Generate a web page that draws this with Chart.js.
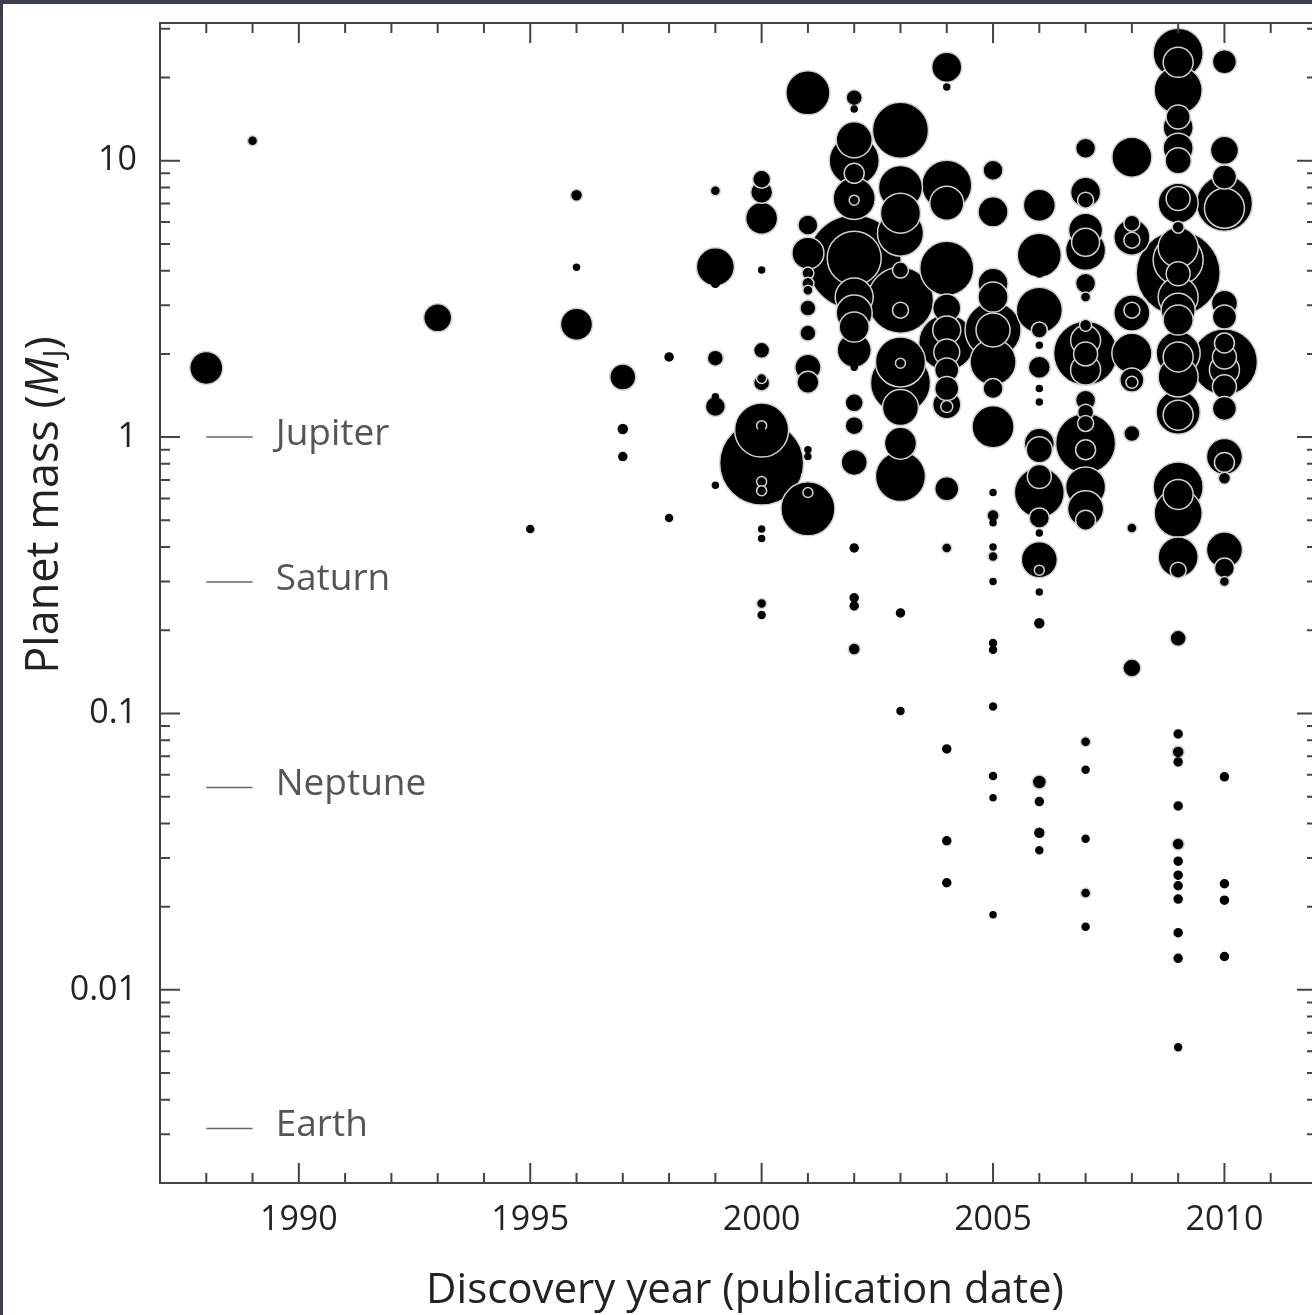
<!DOCTYPE html>
<html>
<head>
<meta charset="utf-8">
<script src="https://cdn.jsdelivr.net/npm/chart.js@4/dist/chart.umd.min.js"></script>
<style>
  html, body { margin: 0; padding: 0; background: #3b3e4b; overflow: hidden; }
  #wrap { position: absolute; left: 3px; top: 4px; width: 1330px; height: 1311px; background: #fff; }
</style>
</head>
<body>
<div id="wrap"><canvas id="massChart" width="1330" height="1311"></canvas></div>
<script>
// discovery years (publication date)
const years = [1988, 1989, 1993, 1995, 1996, 1997, 1998, 1999, 2000, 2001, 2002, 2003, 2004, 2005, 2006, 2007, 2008, 2009, 2010];

// planet masses (M_J), one list per year
const masses = [
  [1.78],
  [11.8],
  [2.7],
  [0.465],
  [7.5, 4.12, 2.56],
  [1.65, 1.07, 0.85],
  [1.95, 0.51],
  [7.78, 4.13, 3.6, 1.93, 1.4, 1.29, 0.67],
  [8.57, 7.69, 6.19, 4.02, 2.06, 1.63, 1.57, 1.10, 1.06, 1.04, 0.805, 0.69, 0.64, 0.465, 0.43, 0.25, 0.227],
  [17.6, 5.85, 4.63, 3.92, 3.6, 3.4, 2.93, 2.38, 1.79, 1.58, 0.90, 0.85, 0.63, 0.55],
  [16.9, 15.4, 11.9, 10, 9.0, 7.3, 7.2, 4.44, 4.3, 3.21, 2.81, 2.5, 2.06, 1.79, 1.33, 1.10, 0.81, 0.397, 0.262, 0.245, 0.171],
  [12.9, 8.0, 6.46, 5.47, 4.02, 3.13, 2.88, 1.87, 1.85, 1.57, 1.28, 0.95, 0.72, 0.231, 0.102],
  [21.8, 18.5, 8.15, 7.02, 4.08, 2.93, 2.44, 2.2, 2.03, 1.75, 1.5, 1.31, 1.29, 0.65, 0.64, 0.397, 0.0744, 0.0346, 0.0244],
  [9.24, 6.53, 3.6, 3.21, 2.44, 2.44, 1.87, 1.5, 1.15, 1.09, 0.63, 0.52, 0.49, 0.40, 0.37, 0.30, 0.18, 0.17, 0.106, 0.0594, 0.0495, 0.0187],
  [6.9, 4.55, 3.92, 2.88, 2.44, 2.15, 1.79, 1.5, 1.34, 0.95, 0.9, 0.72, 0.63, 0.51, 0.45, 0.36, 0.33, 0.275, 0.212, 0.0565, 0.048, 0.037, 0.032],
  [11.1, 7.69, 7.2, 5.6, 5.07, 4.74, 3.6, 3.21, 2.54, 2.24, 2.01, 2.0, 1.75, 1.36, 1.23, 1.12, 0.95, 0.90, 0.66, 0.55, 0.50, 0.079, 0.0625, 0.0352, 0.0224, 0.0169],
  [10.3, 5.94, 5.29, 5.16, 2.88, 2.81, 2.01, 1.61, 1.58, 1.03, 0.469, 0.146],
  [24.5, 22.7, 18.0, 14.4, 13.2, 11.1, 10, 7.3, 7.02, 5.75, 4.86, 4.37, 3.92, 3.9, 3.21, 2.88, 2.65, 2.01, 1.95, 1.65, 1.23, 1.2, 0.66, 0.62, 0.53, 0.368, 0.33, 0.187, 0.0843, 0.0726, 0.0668, 0.0463, 0.0337, 0.0292, 0.026, 0.0238, 0.0213, 0.0161, 0.013, 0.0062],
  [22.8, 10.9, 8.73, 7.02, 6.73, 3.05, 2.72, 2.19, 1.95, 1.87, 1.75, 1.52, 1.27, 0.85, 0.81, 0.71, 0.39, 0.336, 0.30, 0.059, 0.0242, 0.0211, 0.0132]
];

// bubble size for each planet, same order as masses
const sizes = [
  [16.5],
  [5],
  [14],
  [3.5],
  [6, 3, 16],
  [13, 4.5, 4],
  [4, 3.5],
  [5, 19, 4, 8, 3, 10, 3],
  [9, 11, 16, 3, 8, 5, 8, 5, 27, 4, 42, 5, 5, 3, 3, 5, 3.5],
  [22, 10, 16, 6, 6, 5, 8, 8, 13, 11, 3, 3, 5, 27],
  [8, 3, 18, 25, 10, 21, 5, 27, 47, 19, 18, 15, 17, 3, 9, 9, 13, 4, 4, 4, 6],
  [28, 22, 20, 23, 8, 33, 8, 25, 5, 30, 18, 16, 25, 4, 3.5],
  [15, 3, 25, 17, 27, 14, 14, 28, 13, 12, 12, 14, 6, 12, 4, 5, 4, 4, 4],
  [10, 15, 15, 15, 28, 17, 23, 10, 3, 21, 3, 6, 3, 3, 5, 3, 3.5, 3.5, 3.5, 3.5, 3, 3],
  [16, 22, 4, 23, 8, 3, 11, 3, 3, 15, 13, 12, 25, 10, 3, 18, 5, 3, 4.5, 7, 4, 4.5, 3.5],
  [10, 15, 8, 17, 14, 20, 10, 5, 6, 15, 32, 12, 15, 10, 8, 8, 30, 10, 20, 18, 10, 5, 3.5, 3.5, 5, 3.5],
  [20, 8, 18, 8, 8, 18, 20, 12, 6, 8, 5, 9],
  [25, 15, 24, 12, 15, 15, 13, 12, 20, 6, 20, 25, 42, 12, 20, 17, 15, 22, 15, 20, 22, 15, 25, 15, 24, 20, 8, 8, 4, 6, 4, 4, 6, 4, 4, 4, 4, 4, 4, 3.5],
  [12, 14, 12, 28, 20, 13, 12, 10, 12, 33, 15, 12, 12, 18, 10, 6, 18, 10, 5, 4, 4, 4, 4]
];

const xTickLabels = ['1990', '1995', '2000', '2005', '2010'];
const yTickLabels = ['0.01', '0.1', '1', '10'];

// solar system reference masses (M_J)
const refNames = ['Jupiter', 'Saturn', 'Neptune', 'Earth'];
const refMasses = [1, 0.299, 0.054, 0.00315];

// one bubble per planet, big ones first so small ones sit on top
const points = [];
years.forEach((yr, i) => {
  masses[i].forEach((m, j) => points.push({ x: yr, y: m, r: sizes[i][j] }));
});
points.sort((a, b) => b.r - a.r);

function isDecade(v) {
  const l = Math.log10(v);
  return Math.abs(l - Math.round(l)) < 1e-6;
}

const FONT = "'Open Sans', 'Noto Sans', sans-serif";

// box + inward ticks on all four sides
const frameTicks = {
  id: 'frameTicks',
  afterDraw(chart) {
    const { ctx, chartArea: a, scales: { x, y } } = chart;
    ctx.save();
    ctx.strokeStyle = '#444';
    ctx.lineWidth = 2;
    ctx.strokeRect(a.left, a.top, a.right - a.left, a.bottom - a.top);
    ctx.beginPath();
    x.ticks.forEach(t => {
      const px = x.getPixelForValue(t.value);
      const len = t.value % 5 === 0 ? 20 : 10;
      ctx.moveTo(px, a.bottom); ctx.lineTo(px, a.bottom - len);
      ctx.moveTo(px, a.top); ctx.lineTo(px, a.top + len);
    });
    y.ticks.forEach(t => {
      const py = y.getPixelForValue(t.value);
      const len = isDecade(t.value) ? 20 : 10;
      ctx.moveTo(a.left, py); ctx.lineTo(a.left + len, py);
      ctx.moveTo(a.right, py); ctx.lineTo(a.right - len, py);
    });
    ctx.stroke();
    ctx.restore();
  }
};

// Jupiter / Saturn / Neptune / Earth markers
const refLines = {
  id: 'refLines',
  beforeDatasetsDraw(chart) {
    const { ctx, scales: { x, y } } = chart;
    ctx.save();
    ctx.strokeStyle = '#666';
    ctx.lineWidth = 1.5;
    ctx.fillStyle = '#555';
    ctx.font = '37px ' + FONT;
    ctx.textBaseline = 'middle';
    refNames.forEach((name, i) => {
      const py = y.getPixelForValue(refMasses[i]);
      ctx.beginPath();
      ctx.moveTo(x.getPixelForValue(1988), py);
      ctx.lineTo(x.getPixelForValue(1989), py);
      ctx.stroke();
      ctx.fillText(name, x.getPixelForValue(1989.5), py - 3);
    });
    ctx.restore();
  }
};

// axis titles (the y one needs italic M and subscript J)
const axisTitles = {
  id: 'axisTitles',
  afterDraw(chart) {
    const { ctx } = chart;
    ctx.save();
    ctx.fillStyle = '#222';
    ctx.textBaseline = 'middle';
    ctx.font = '42px ' + FONT;
    ctx.textAlign = 'center';
    ctx.fillText('Discovery year (publication date)', 742, 1287);

    ctx.translate(42, 501);
    ctx.rotate(-Math.PI / 2);
    ctx.textAlign = 'left';
    const parts = [
      { t: 'Planet mass (', f: '45px ' + FONT, dy: 0 },
      { t: 'M', f: 'italic 45px ' + FONT, dy: 0 },
      { t: 'J', f: '30px ' + FONT, dy: 10 },
      { t: ')', f: '45px ' + FONT, dy: 0 }
    ];
    let total = 0;
    parts.forEach(p => { ctx.font = p.f; p.w = ctx.measureText(p.t).width; total += p.w; });
    let cx = -total / 2;
    parts.forEach(p => {
      ctx.font = p.f;
      ctx.fillText(p.t, cx, p.dy);
      cx += p.w;
    });
    ctx.restore();
  }
};

const ctx = document.getElementById('massChart').getContext('2d');
const massChart = new Chart(ctx, {
  type: 'bubble',
  data: {
    datasets: [{
      data: points,
      backgroundColor: '#000',
      borderColor: c => (c.raw && c.raw.r >= 5 ? '#d2d2d2' : '#000'),
      borderWidth: 1.5
    }]
  },
  options: {
    responsive: false,
    animation: false,
    layout: { autoPadding: false, padding: { top: 19, right: 16, left: 0, bottom: 0 } },
    plugins: {
      legend: { display: false },
      tooltip: { enabled: false }
    },
    scales: {
      x: {
        type: 'linear',
        min: 1987,
        max: 2012,
        grid: { display: false, drawTicks: false },
        border: { display: false },
        ticks: {
          stepSize: 1,
          autoSkip: false,
          maxRotation: 0,
          padding: 17,
          color: '#222',
          font: { size: 34, family: FONT },
          callback: v => (xTickLabels.includes(String(v)) ? String(v) : '')
        },
        afterFit: s => {
          s.height = 132;
          s.paddingLeft = 0;
          s.paddingRight = 0;
        }
      },
      y: {
        type: 'logarithmic',
        min: 0.002,
        max: 31.5,
        grid: { display: false, drawTicks: false },
        border: { display: false },
        ticks: {
          autoSkip: false,
          padding: 23,
          color: '#222',
          font: { size: 34, family: FONT },
          callback: v => {
            const lab = yTickLabels.find(l => Math.abs(parseFloat(l) - v) < v * 1e-6);
            return lab || '';
          }
        },
        afterBuildTicks: s => {
          const ticks = [];
          for (let e = -3; e <= 1; e++) {
            for (let m = 1; m <= 9; m++) {
              const v = m * Math.pow(10, e);
              if (v >= s.min && v <= s.max) ticks.push({ value: v });
            }
          }
          s.ticks = ticks;
        },
        afterFit: s => {
          s.width = 157;
          s.paddingTop = 0;
          s.paddingBottom = 0;
        }
      }
    }
  },
  plugins: [frameTicks, refLines, axisTitles]
});
</script>
</body>
</html>
